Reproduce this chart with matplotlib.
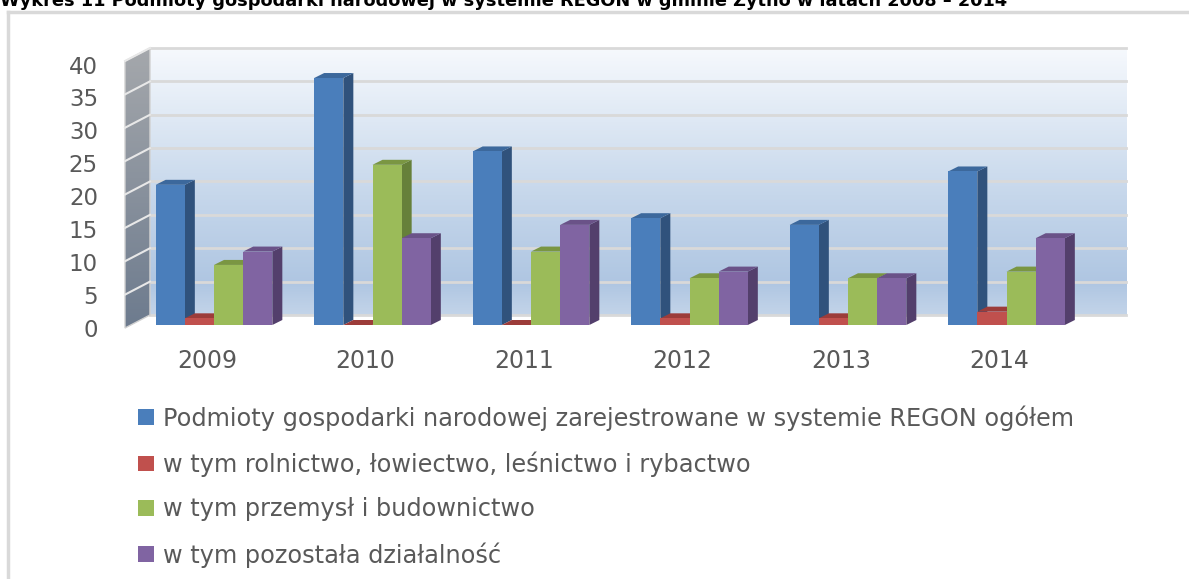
import numpy as np
import matplotlib
matplotlib.use("Agg")
import matplotlib.pyplot as plt
from matplotlib.patches import Polygon
from matplotlib.colors import LinearSegmentedColormap

years = ["2009", "2010", "2011", "2012", "2013", "2014"]
ogolem = [21, 37, 26, 16, 15, 23]
rolnictwo = [1, 0, 0, 1, 1, 2]
przemysl = [9, 24, 11, 7, 7, 8]
pozostala = [11, 13, 15, 8, 7, 13]

labels = [
    "Podmioty gospodarki narodowej zarejestrowane w systemie REGON ogółem",
    "w tym rolnictwo, łowiectwo, leśnictwo i rybactwo",
    "w tym przemysł i budownictwo",
    "w tym pozostała działalność",
]
yticks = [0, 5, 10, 15, 20, 25, 30, 35, 40]
title = "Wykres 11 Podmioty gospodarki narodowej w systemie REGON w gminie Żytno w latach 2008 – 2014"

# front, side, top colours for each series
colors = [
    ("#4a7ebb", "#30527c", "#3c689c"),
    ("#c0504d", "#8a3533", "#9c3c3a"),
    ("#9bbb59", "#66803a", "#7a9642"),
    ("#8064a2", "#533f6c", "#6a5288"),
]
textc = "#595959"

W, H = 1189, 579
fig = plt.figure(figsize=(W / 100, H / 100), dpi=100)
ax = fig.add_axes([0, 0, 1, 1])
ax.set_axis_off()

# axes scale: one category = 158.5 px, one unit = 6.675 px
px_x, px_y = 158.5, 6.675
x0px, y0px = 214, 325
ax.set_xlim(-x0px / px_x, (W - x0px) / px_x)
ax.set_ylim(-(H - y0px) / px_y, y0px / px_y)

# depth of bars and walls in data units
bdx, bdy = 10 / px_x, 5 / px_y
wall_l, wall_r = -0.404, 5.754
wall_front_x = -0.5615
back_dy = 1.5
front_dy = -0.45

# back wall with gradient
grad = LinearSegmentedColormap.from_list(
    "wall", [(0, "#c3d4e9"), (0.12, "#afc6e2"), (0.45, "#c6d7eb"), (1, "#f6f9fd")])
g = np.linspace(0, 1, 256).reshape(-1, 1)
ax.imshow(g, cmap=grad, origin="lower", aspect="auto",
          extent=(wall_l, wall_r, back_dy, 40 + back_dy), zorder=0)
for v in yticks:
    ax.plot([wall_l, wall_r], [v + back_dy, v + back_dy], color="#d9d9d9", lw=2, zorder=1)

# left side wall
side = Polygon([(wall_front_x, front_dy), (wall_l, back_dy), (wall_l, 40 + back_dy),
                (wall_front_x, 40 + front_dy)], closed=True, facecolor="none",
               edgecolor="#d0d0d0", lw=1, zorder=1.5)
ax.add_patch(side)
sgrad = LinearSegmentedColormap.from_list("side", [(0, "#6d7b8e"), (1, "#a5a8ac")])
im = ax.imshow(g, cmap=sgrad, origin="lower", aspect="auto",
               extent=(wall_front_x, wall_l, front_dy, 40 + back_dy), zorder=1.2)
im.set_clip_path(side)
for v in yticks[1:]:
    ax.plot([wall_front_x, wall_l], [v + front_dy, v + back_dy], color="#e8e8e8",
            lw=1.5, zorder=1.6)

# bars
series = [ogolem, rolnictwo, przemysl, pozostala]
x = np.arange(len(years))
bw = 0.184
handles = []
for k, vals in enumerate(series):
    fc, sc, tc = colors[k]
    xs = x + (k - 1.5) * bw
    b = ax.bar(xs, vals, width=bw, color=fc, zorder=3, linewidth=0)
    handles.append(b)
    for xc, v in zip(xs, vals):
        xl, xr = xc - bw / 2, xc + bw / 2
        ax.add_patch(Polygon([(xr, 0), (xr, v), (xr + bdx, v + bdy), (xr + bdx, bdy)],
                             closed=True, facecolor=sc, lw=0, zorder=2 + k * 0.1))
        ax.add_patch(Polygon([(xl, v), (xr, v), (xr + bdx, v + bdy), (xl + bdx, v + bdy)],
                             closed=True, facecolor=tc, lw=0, zorder=2.05 + k * 0.1))

# tick labels
for v in yticks:
    ax.text(-0.732, v * 0.985 - 0.75, str(v), ha="right", va="center",
            fontsize=16.5, color=textc)
for i, yr in enumerate(years):
    ax.text(i - 0.045, -5.4, yr, ha="center", va="center", fontsize=17, color=textc)

# legend
leg = ax.legend([h[0] for h in handles], labels, loc="upper left",
                bbox_to_anchor=(126 / W, 1 - 393 / H), bbox_transform=fig.transFigure,
                frameon=False, fontsize=17.3, labelcolor=textc, handlelength=0.65,
                handleheight=0.6, handletextpad=0.4, labelspacing=0.86, borderpad=0)

# outer frame and title
fig.add_artist(plt.Line2D([8 / W, 8 / W], [0, 1 - 12 / H], color="#d9d9d9", lw=2.5))
fig.add_artist(plt.Line2D([8 / W, 1], [1 - 12 / H, 1 - 12 / H], color="#d9d9d9", lw=2.5))
fig.text(0, 1 - 6 / H, title, ha="left", va="baseline", fontsize=12.8,
         fontweight="bold", color="black")

fig.savefig("out.png", dpi=100)
